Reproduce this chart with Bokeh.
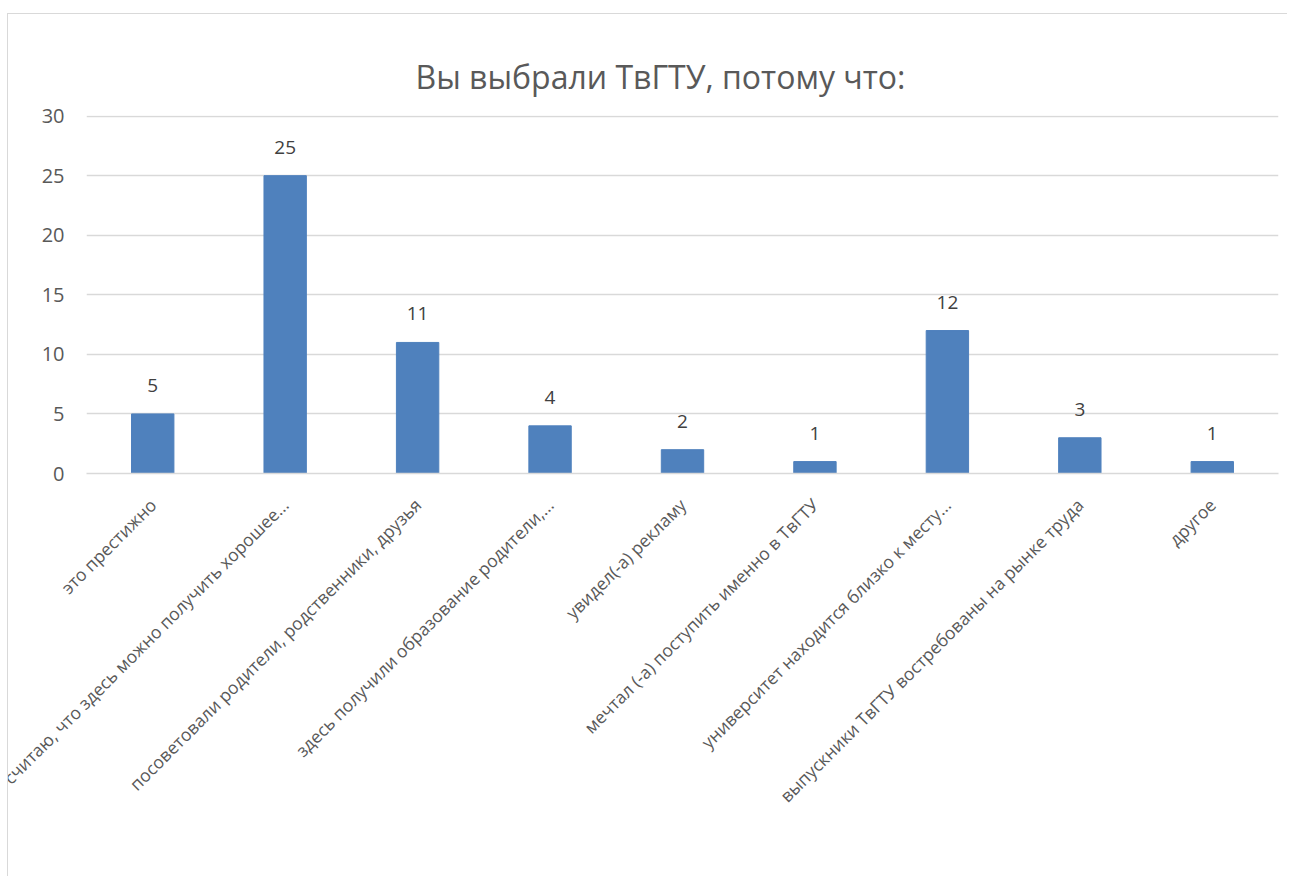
import math
from bokeh.plotting import figure
from bokeh.models import ColumnDataSource, FactorRange, Range1d, FixedTicker
from bokeh.core.properties import value
from bokeh.embed import file_html
from bokeh.resources import INLINE

categories = [
    "это престижно",
    "считаю, что здесь можно получить хорошее...",
    "посоветовали родители, родственники, друзья",
    "здесь получили образование родители,...",
    "увидел(-а) рекламу",
    "мечтал (-а) поступить именно в ТвГТУ",
    "университет находится близко к месту...",
    "выпускники ТвГТУ востребованы на рынке труда",
    "другое",
]
counts = [5, 25, 11, 4, 2, 1, 12, 3, 1]
y_ticks = [0, 5, 10, 15, 20, 25, 30]

FONT = "Open Sans"

src = ColumnDataSource(dict(cat=categories, val=counts, lab=[str(v) for v in counts]))

p = figure(
    x_range=FactorRange(*categories, range_padding=0),
    y_range=Range1d(0, 30.05),
    width=1280, height=863,
    output_backend="svg", toolbar_location=None,
    title="Вы выбрали ТвГТУ, потому что:",
    min_border_left=78, min_border_right=10, min_border_top=101, min_border_bottom=404,
)
p.title.align = "left"
p.title.offset = 329
p.title.text_font = FONT
p.title.text_font_size = "32px"
p.title.text_font_style = "normal"
p.title.text_color = "#595959"
p.title.standoff = 35

p.vbar(x="cat", top="val", width=0.32, source=src, color="#4F81BD")
p.text(x="cat", y="val", text="lab", source=src, y_offset=-22,
       text_align="center", text_baseline="bottom",
       text_font=value(FONT), text_font_size="19px", text_color="#404040")

p.outline_line_color = None
p.xgrid.grid_line_color = None
p.ygrid.grid_line_color = "#D9D9D9"
p.ygrid.grid_line_width = 1.3
p.yaxis.ticker = FixedTicker(ticks=y_ticks)
p.yaxis.axis_line_color = None
p.yaxis.major_tick_line_color = None
p.yaxis.minor_tick_line_color = None
p.yaxis.major_label_text_font = FONT
p.yaxis.major_label_text_font_size = "20px"
p.yaxis.major_label_text_color = "#595959"
p.yaxis.major_label_standoff = 16

p.xaxis.axis_line_color = "#D9D9D9"
p.xaxis.axis_line_width = 1.3
p.xaxis.major_tick_line_color = None
p.xaxis.minor_tick_line_color = None
p.xaxis.major_label_orientation = math.pi / 4
p.xaxis.major_label_text_font = FONT
p.xaxis.major_label_text_font_size = "17.5px"
p.xaxis.major_label_text_color = "#595959"
p.xaxis.major_label_standoff = 22

p.styles = {"margin-left": "7px", "margin-top": "13px",
            "border-left": "1px solid #D9D9D9", "border-top": "1px solid #D9D9D9"}

open("out.html", "w").write(file_html(p, INLINE))
